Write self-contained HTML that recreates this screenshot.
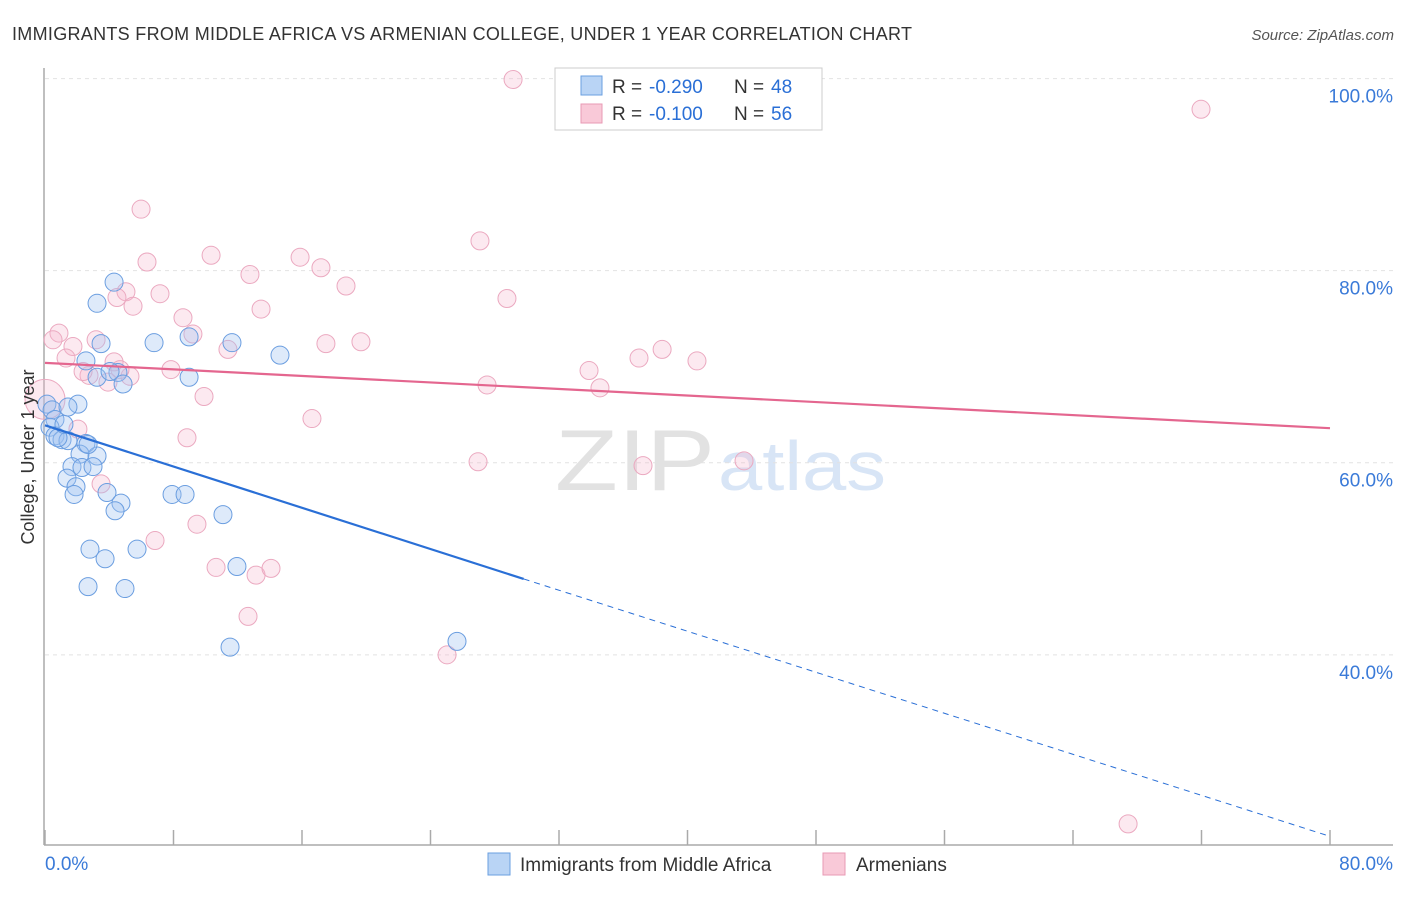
<!DOCTYPE html>
<html><head><meta charset="utf-8"><style>
body{margin:0;background:#fff;font-family:"Liberation Sans",sans-serif;}
svg text{font-family:"Liberation Sans",sans-serif;}
</style></head><body>
<svg id="chart" width="1406" height="892" xmlns="http://www.w3.org/2000/svg">
<text x="12" y="40" font-size="18" fill="#333" textLength="900" lengthAdjust="spacing">IMMIGRANTS FROM MIDDLE AFRICA VS ARMENIAN COLLEGE, UNDER 1 YEAR CORRELATION CHART</text>
<text x="1394" y="40" font-size="15" fill="#555" text-anchor="end" font-style="italic">Source: ZipAtlas.com</text>
<g>
<text x="555" y="490" font-size="86" fill="#e2e2e2" font-family="Liberation Serif, serif" textLength="160" lengthAdjust="spacingAndGlyphs">ZIP</text>
<text x="718" y="490" font-size="70" fill="#d8e5f6" textLength="168" lengthAdjust="spacingAndGlyphs">atlas</text>
</g>
<g id="grid"></g>
<g id="axes"></g>
<g id="marks"></g>
<text transform="translate(34,457) rotate(-90)" font-size="18" fill="#333" text-anchor="middle">College, Under 1 year</text>
<g>
<rect x="555" y="68" width="267" height="62" fill="#fff" stroke="#ccc"/>
<rect x="581" y="76" width="21" height="19" fill="#b9d4f5" stroke="#6a9fe0"/>
<rect x="581" y="104" width="21" height="19" fill="#f9c9d8" stroke="#e89ab4"/>
<text x="612" y="93" font-size="19" fill="#333">R =</text>
<text x="649" y="93" font-size="19" fill="#2a6fd6">-0.290</text>
<text x="734" y="93" font-size="19" fill="#333">N =</text>
<text x="771" y="93" font-size="19" fill="#2a6fd6">48</text>
<text x="612" y="120" font-size="19" fill="#333">R =</text>
<text x="649" y="120" font-size="19" fill="#2a6fd6">-0.100</text>
<text x="734" y="120" font-size="19" fill="#333">N =</text>
<text x="771" y="120" font-size="19" fill="#2a6fd6">56</text>
</g>
<g>
<rect x="488" y="853" width="22" height="22" fill="#b9d4f5" stroke="#6a9fe0"/>
<text x="520" y="871" font-size="19" fill="#333">Immigrants from Middle Africa</text>
<rect x="823" y="853" width="22" height="22" fill="#f9c9d8" stroke="#e89ab4"/>
<text x="856" y="871" font-size="19" fill="#333">Armenians</text>
</g>
</svg>
<script>
const blueX=[0.12,0.44,0.62,0.31,0.62,1.06,1.43,2.05,1.43,2.55,2.18,3.24,1.68,2.30,2.99,1.37,1.93,1.81,3.86,4.73,4.36,2.80,3.74,5.73,2.68,4.98,4.30,3.24,3.49,6.79,8.97,11.64,14.63,2.55,4.54,3.24,4.86,8.97,7.91,8.72,11.08,11.95,11.52,25.65,0.81,1.18,2.68,4.05];
const blueY=[66.1,65.5,64.5,63.7,62.8,62.4,62.3,66.1,65.8,62.0,60.9,60.7,59.6,59.5,59.6,58.4,57.5,56.7,56.9,55.8,55.0,51.0,50.0,51.0,47.1,46.9,78.8,76.6,72.4,72.5,73.1,72.5,71.2,70.6,69.4,68.9,68.2,68.9,56.7,56.7,54.6,49.2,40.8,41.4,62.6,64.0,61.9,69.5];
const pinkX=[29.14,71.97,5.98,27.08,6.35,10.34,15.88,12.76,17.18,18.74,5.04,4.48,7.16,5.48,13.45,8.59,28.76,0.87,0.50,9.21,3.18,1.74,11.39,17.49,19.67,1.31,4.30,2.74,5.29,3.92,7.84,33.87,36.98,38.42,40.59,27.52,34.55,9.90,16.62,2.05,8.84,26.96,37.23,43.52,3.49,9.46,6.85,10.65,13.14,14.07,12.64,25.03,67.43,0,4.67,2.37];
const pinkY=[99.9,96.8,86.4,83.1,80.9,81.6,81.4,79.6,80.3,78.4,77.8,77.2,77.6,76.3,76.0,75.1,77.1,73.5,72.8,73.4,72.8,72.1,71.8,72.4,72.6,70.9,70.5,69.1,69.0,68.4,69.7,69.6,70.9,71.8,70.6,68.1,67.8,66.9,64.6,63.5,62.6,60.1,59.7,60.2,57.8,53.6,51.9,49.1,48.3,49.0,44.0,40.0,22.4,66.6,69.7,69.5];
const yTicks=[100,80,60,40];
const yTickLabels=["100.0%","80.0%","60.0%","40.0%"];
const xTicks=[0,8,16,24,32,40,48,56,64,72,80];
const blueTrend=[63.9,47.9,21.1];
const blueTrendX=[0,29.8,80];
const pinkTrend=[70.4,63.6];
const pinkTrendX=[0,80];
const NS="http://www.w3.org/2000/svg";
function sx(v){return 45+v/80*1285;}
function sy(v){return 845-(v-20.2)/(101.1-20.2)*777;}
function mk(tag,attrs,parent){const e=document.createElementNS(NS,tag);for(const k in attrs)e.setAttribute(k,attrs[k]);document.getElementById(parent).appendChild(e);return e;}
yTicks.forEach((t,i)=>{
 const l=mk('line',{x1:45,x2:1393,y1:sy(t),y2:sy(t),stroke:'#e2e2e2','stroke-dasharray':'4,4'},'grid');
 
 
 const tx=mk('text',{x:1393,y:sy(t)+24,'font-size':19,fill:'#3a7ad8','text-anchor':'end'},'grid');
 tx.textContent=yTickLabels[i];
 
 
});
const ya=mk('line',{x1:44,x2:44,y1:68,y2:845,stroke:'#aaa','stroke-width':1.5},'axes');


const xa=mk('line',{x1:44,x2:1393,y1:845,y2:845,stroke:'#aaa','stroke-width':1.5},'axes');


xTicks.forEach(t=>{
 const l=mk('line',{x1:sx(t),x2:sx(t),y1:830,y2:845,stroke:'#aaa','stroke-width':1.5},'axes');
 
 
});
const xl0=mk('text',{x:45,y:870,'font-size':19,fill:'#3a7ad8'},'axes');xl0.textContent='0.0%';


const xl1=mk('text',{x:1393,y:870,'font-size':19,fill:'#3a7ad8','text-anchor':'end'},'axes');xl1.textContent='80.0%';


pinkX.forEach((x,i)=>{
 const r=(x===0)?20:9;
 const c=mk('circle',{cx:sx(x),cy:sy(pinkY[i]),r:r,fill:'rgba(246,182,204,0.3)',stroke:'#eba9c0','stroke-width':1},'marks');
 
 
});
blueX.forEach((x,i)=>{
 const c=mk('circle',{cx:sx(x),cy:sy(blueY[i]),r:9,fill:'rgba(160,196,242,0.35)',stroke:'#6b9ee0','stroke-width':1},'marks');
 
 
});
const pl=mk('line',{x1:sx(pinkTrendX[0]),y1:sy(pinkTrend[0]),x2:sx(pinkTrendX[1]),y2:sy(pinkTrend[1]),stroke:'#e4668f','stroke-width':2.2},'marks');


const bl=mk('line',{x1:sx(blueTrendX[0]),y1:sy(blueTrend[0]),x2:sx(blueTrendX[1]),y2:sy(blueTrend[1]),stroke:'#2a6fd6','stroke-width':2.2},'marks');


const bd=mk('line',{x1:sx(blueTrendX[1]),y1:sy(blueTrend[1]),x2:sx(blueTrendX[2]),y2:sy(blueTrend[2]),stroke:'#2a6fd6','stroke-width':1,'stroke-dasharray':'6,5'},'marks');


</script>
</body></html>
